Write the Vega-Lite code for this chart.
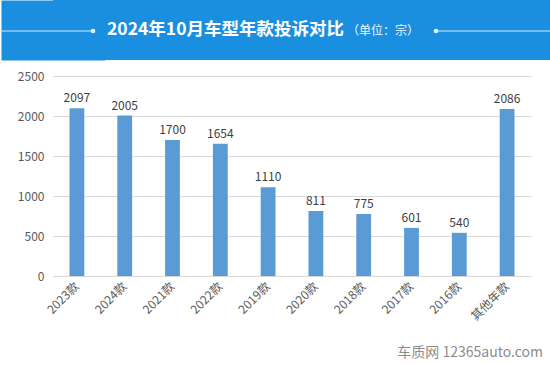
{
  "$schema": "https://vega.github.io/schema/vega-lite/v6.json",
  "padding": 0,
  "background": "white",
  "spacing": 10,
  "config": {
    "font": "Noto Sans CJK SC",
    "view": {"stroke": null}
  },
  "vconcat": [
    {
      "width": 498,
      "height": 60,
      "view": {"fill": "#1a8fe0", "stroke": null},
      "layer": [
        {
          "data": {"values": [
            {"x": 0, "x2": 92, "y": 31},
            {"x": 435, "x2": 550, "y": 31}
          ]},
          "mark": {"type": "rule", "color": "#cfe8fb", "strokeWidth": 1},
          "encoding": {
            "x": {"field": "x", "type": "quantitative", "scale": {"domain": [52, 550], "nice": false, "zero": false}, "axis": null},
            "x2": {"field": "x2"},
            "y": {
              "field": "y", "type": "quantitative", "scale": {"domain": [60, 0], "nice": false, "zero": false},
              "axis": {
                "title": null, "labels": false, "ticks": false, "grid": false,
                "domain": true, "domainColor": "#1a8fe0", "domainWidth": 104,
                "minExtent": 52, "maxExtent": 52
              }
            }
          }
        },
        {
          "data": {"values": [{"x": 92, "y": 31}, {"x": 435, "y": 31}]},
          "mark": {"type": "circle", "color": "#e6f3fd", "opacity": 1, "size": 22},
          "encoding": {
            "x": {"field": "x", "type": "quantitative", "scale": {"domain": [52, 550], "nice": false, "zero": false}, "axis": null},
            "y": {"field": "y", "type": "quantitative", "scale": {"domain": [60, 0], "nice": false, "zero": false}}
          }
        },
        {
          "data": {"values": [{"x": 343, "y": 30, "t": "2024年10月车型年款投诉对比"}]},
          "mark": {"type": "text", "align": "right", "baseline": "middle", "fontSize": 17.5, "fontWeight": "bold", "color": "white"},
          "encoding": {
            "x": {"field": "x", "type": "quantitative", "scale": {"domain": [52, 550], "nice": false, "zero": false}, "axis": null},
            "y": {"field": "y", "type": "quantitative", "scale": {"domain": [60, 0], "nice": false, "zero": false}},
            "text": {"field": "t"}
          }
        },
        {
          "data": {"values": [{"x": 346, "y": 31, "t": "（单位：宗）"}]},
          "mark": {"type": "text", "align": "left", "baseline": "middle", "fontSize": 12, "color": "#eef7ff"},
          "encoding": {
            "x": {"field": "x", "type": "quantitative", "scale": {"domain": [52, 550], "nice": false, "zero": false}, "axis": null},
            "y": {"field": "y", "type": "quantitative", "scale": {"domain": [60, 0], "nice": false, "zero": false}},
            "text": {"field": "t"}
          }
        }
      ]
    },
    {
      "width": 478,
      "height": 200,
      "title": {
        "text": "车质网 12365auto.com",
        "orient": "bottom",
        "anchor": "end",
        "fontSize": 14,
        "fontWeight": "normal",
        "color": "#8c8c8c",
        "offset": 24,
        "dx": 12
      },
      "data": {"values": [
        {"year": "2023款", "count": 2097},
        {"year": "2024款", "count": 2005},
        {"year": "2021款", "count": 1700},
        {"year": "2022款", "count": 1654},
        {"year": "2019款", "count": 1110},
        {"year": "2020款", "count": 811},
        {"year": "2018款", "count": 775},
        {"year": "2017款", "count": 601},
        {"year": "2016款", "count": 540},
        {"year": "其他年款", "count": 2086}
      ]},
      "encoding": {
        "x": {
          "field": "year", "type": "nominal", "sort": null,
          "scale": {"paddingInner": 0.69, "paddingOuter": 0.345},
          "axis": {
            "title": null, "labelAngle": -45, "labelAlign": "right", "labelBaseline": "middle",
            "labelFontSize": 12, "labelColor": "#595959", "ticks": false, "tickSize": 0,
            "labelPadding": 8, "domainColor": "#d9d9d9", "grid": false
          }
        },
        "y": {
          "field": "count", "type": "quantitative",
          "scale": {"domain": [0, 2500], "nice": false},
          "axis": {
            "title": null, "values": [0, 500, 1000, 1500, 2000, 2500], "format": "d",
            "labelFontSize": 12, "labelColor": "#595959", "ticks": false, "tickSize": 0,
            "labelPadding": 9, "domain": false, "gridColor": "#d9d9d9",
            "minExtent": 52, "maxExtent": 52
          }
        }
      },
      "layer": [
        {"mark": {"type": "bar", "color": "#5b9bd5"}},
        {
          "mark": {"type": "text", "baseline": "bottom", "dy": -3, "fontSize": 12, "color": "#404040"},
          "encoding": {"text": {"field": "count", "type": "quantitative"}}
        }
      ]
    }
  ]
}
